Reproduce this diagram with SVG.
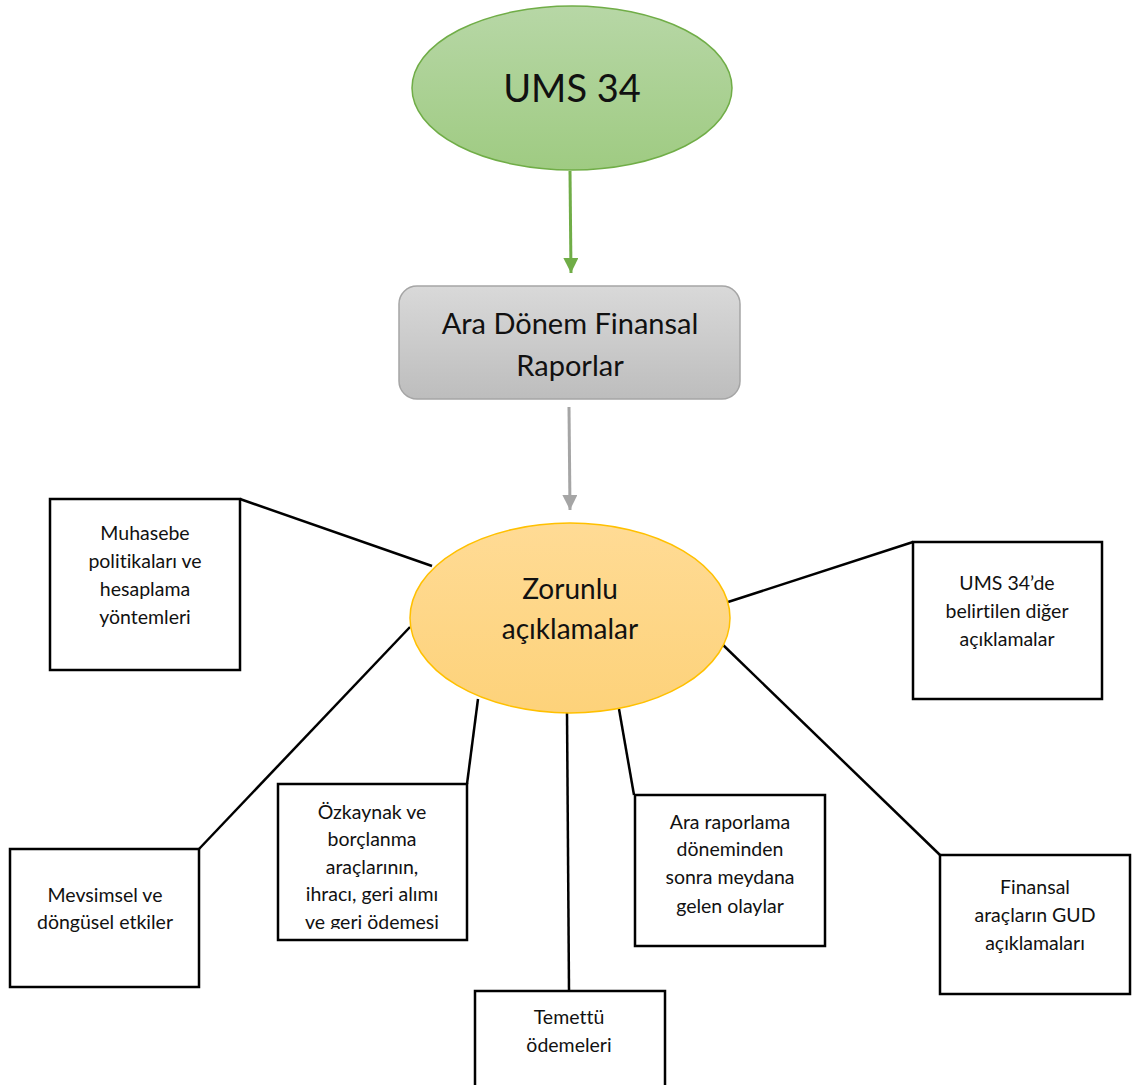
<svg xmlns="http://www.w3.org/2000/svg" width="1132" height="1085" viewBox="0 0 1132 1085">
  <style>
    text { font-family: Lato, "Open Sans", "Liberation Sans", sans-serif; fill: #111; text-anchor: middle; font-variant-ligatures: none; }
    .box { fill: #fff; stroke: #000; stroke-width: 2.5; }
    .t { font-size: 19.5px; }
    .conn { stroke: #000; stroke-width: 2.5; fill: none; }
  </style>
  <defs>
    <linearGradient id="gGreen" x1="0" y1="0" x2="0" y2="1">
      <stop offset="0" stop-color="#b7d7a6"/>
      <stop offset="1" stop-color="#9fcb82"/>
    </linearGradient>
    <linearGradient id="gGray" x1="0" y1="0" x2="0" y2="1">
      <stop offset="0" stop-color="#d9d9d9"/>
      <stop offset="1" stop-color="#bdbdbd"/>
    </linearGradient>
    <linearGradient id="gOrange" x1="0" y1="0" x2="0" y2="1">
      <stop offset="0" stop-color="#ffdb95"/>
      <stop offset="1" stop-color="#fdd27a"/>
    </linearGradient>
    <marker id="arrGreen" viewBox="0 0 10 10" refX="10" refY="5" markerWidth="5" markerHeight="5" orient="auto" markerUnits="strokeWidth">
      <path d="M0,0 L10,5 L0,10 z" fill="#70ad47"/>
    </marker>
    <marker id="arrGray" viewBox="0 0 10 10" refX="10" refY="5" markerWidth="5" markerHeight="5" orient="auto" markerUnits="strokeWidth">
      <path d="M0,0 L10,5 L0,10 z" fill="#a5a5a5"/>
    </marker>
    <clipPath id="clipOz">
      <rect x="278" y="784" width="189" height="145"/>
    </clipPath>
  </defs>

  <!-- connectors -->
  <g id="connectors">
    <line x1="570" y1="171" x2="571" y2="273" stroke="#70ad47" stroke-width="3" marker-end="url(#arrGreen)"/>
    <line x1="569" y1="407" x2="570" y2="510" stroke="#a5a5a5" stroke-width="3" marker-end="url(#arrGray)"/>
    <line class="conn" x1="240" y1="499" x2="432" y2="566"/>
    <line class="conn" x1="913" y1="542" x2="728" y2="602"/>
    <line class="conn" x1="199" y1="849" x2="410" y2="627"/>
    <line class="conn" x1="467" y1="784" x2="478" y2="699"/>
    <line class="conn" x1="569" y1="991" x2="567" y2="712"/>
    <line class="conn" x1="634" y1="795" x2="619" y2="709"/>
    <line class="conn" x1="940" y1="855" x2="721" y2="643"/>
  </g>

  <g id="ums34">
    <ellipse cx="572" cy="88" rx="160" ry="82" fill="url(#gGreen)" stroke="#70ad47" stroke-width="1.5"/>
    <text x="572" y="102" font-size="38">UMS 34</text>
  </g>

  <g id="ara-donem">
    <rect x="399" y="286" width="341" height="113" rx="18" fill="url(#gGray)" stroke="#a5a5a5" stroke-width="1.5"/>
    <text x="570" y="334" font-size="29">Ara Dönem Finansal</text>
    <text x="570" y="376" font-size="29">Raporlar</text>
  </g>

  <g id="zorunlu">
    <ellipse cx="570" cy="618" rx="160" ry="95" fill="url(#gOrange)" stroke="#ffc000" stroke-width="1.5"/>
    <text x="570" y="599" font-size="28">Zorunlu</text>
    <text x="570" y="639" font-size="28">açıklamalar</text>
  </g>

  <g id="muhasebe">
    <rect class="box" x="50" y="499" width="190" height="171"/>
    <text class="t" x="145" y="540">Muhasebe</text>
    <text class="t" x="145" y="568">politikaları ve</text>
    <text class="t" x="145" y="596">hesaplama</text>
    <text class="t" x="145" y="624">yöntemleri</text>
  </g>

  <g id="ums34-diger">
    <rect class="box" x="913" y="542" width="189" height="157"/>
    <text class="t" x="1007" y="590">UMS 34’de</text>
    <text class="t" x="1007" y="618">belirtilen diğer</text>
    <text class="t" x="1007" y="646">açıklamalar</text>
  </g>

  <g id="mevsimsel">
    <rect class="box" x="10" y="849" width="189" height="138"/>
    <text class="t" x="105" y="902">Mevsimsel ve</text>
    <text class="t" x="105" y="929">döngüsel etkiler</text>
  </g>

  <g id="ozkaynak">
    <rect class="box" x="278" y="784" width="189" height="156"/>
    <g clip-path="url(#clipOz)">
      <text class="t" x="372" y="819">Özkaynak ve</text>
      <text class="t" x="372" y="846">borçlanma</text>
      <text class="t" x="372" y="874">araçlarının,</text>
      <text class="t" x="372" y="901">ihracı, geri alımı</text>
      <text class="t" x="372" y="929">ve geri ödemesi</text>
    </g>
  </g>

  <g id="temettu">
    <rect class="box" x="475" y="991" width="190" height="100"/>
    <text class="t" x="569" y="1024">Temettü</text>
    <text class="t" x="569" y="1052">ödemeleri</text>
  </g>

  <g id="ara-raporlama">
    <rect class="box" x="635" y="795" width="190" height="151"/>
    <text class="t" x="730" y="829">Ara raporlama</text>
    <text class="t" x="730" y="856">döneminden</text>
    <text class="t" x="730" y="884">sonra meydana</text>
    <text class="t" x="730" y="913">gelen olaylar</text>
  </g>

  <g id="finansal">
    <rect class="box" x="940" y="855" width="190" height="139"/>
    <text class="t" x="1035" y="894">Finansal</text>
    <text class="t" x="1035" y="922">araçların GUD</text>
    <text class="t" x="1035" y="950">açıklamaları</text>
  </g>
</svg>
